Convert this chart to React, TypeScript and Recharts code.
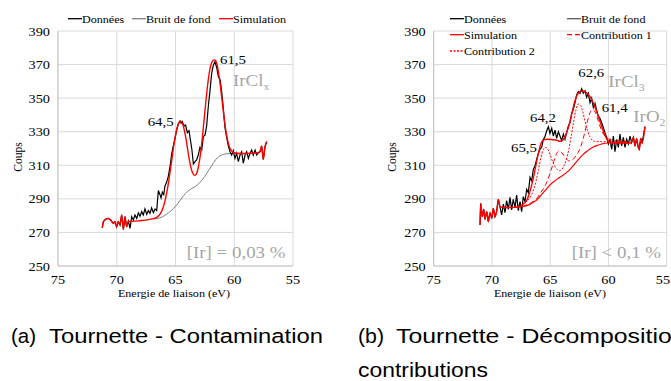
import React from 'react'
import { LineChart, Line, XAxis, YAxis, CartesianGrid } from 'recharts'

const SERIF = '"Liberation Serif", "Times New Roman", serif'
const SANS = '"Liberation Sans", Arial, sans-serif'
const RED = '#ff0000'
const GREY_TXT = '#a6a6a6'

const xTicks = [75, 70, 65, 60, 55]
const yTicks = [250, 270, 290, 310, 330, 350, 370, 390]

// (a) Tournette - Contamination
const dataEnergyA = [
  71.23, 71.14, 70.92, 70.72, 70.52, 70.29, 70.15, 70.01, 69.87, 69.72, 69.58, 69.44, 69.3, 69.16, 69.01,
  68.87, 68.73, 68.59, 68.45, 68.3, 68.16, 68.02, 67.88, 67.74, 67.6, 67.45, 67.31, 67.17, 67.03, 66.88,
  66.74, 66.6, 66.46, 66.32, 66.23, 66.12, 66.0, 65.9, 65.75, 65.61, 65.47, 65.33, 65.19, 65.04, 64.9,
  64.76, 64.62, 64.52, 64.42, 64.28, 64.14, 63.99, 63.85, 63.71, 63.6, 63.48, 63.34, 63.2, 63.06, 62.92,
  62.77, 62.63, 62.49, 62.35, 62.21, 62.06, 61.92, 61.78, 61.64, 61.5, 61.35, 61.21, 61.07, 60.93, 60.79,
  60.65, 60.5, 60.36, 60.22, 60.08, 59.94, 59.8, 59.65, 59.51, 59.37, 59.23, 59.08, 58.94, 58.8, 58.66,
  58.52, 58.38, 58.23, 58.09, 57.95, 57.81, 57.67, 57.53, 57.38, 57.24,
]
const dataCountsA = [
  272.8, 276.4, 278.0, 278.4, 277.4, 275.4, 276.4, 273.4, 276.4, 274.4, 280.4, 271.8, 279.4, 273.4, 276.8,
  272.4, 279.4, 277.4, 280.4, 278.4, 281.6, 279.6, 282.4, 280.4, 284.0, 280.8, 283.0, 281.4, 284.6, 281.8,
  284.0, 283.0, 295.0, 292.5, 290.5, 294.0, 292.5, 297.5, 300.0, 303.5, 309.0, 316.5, 321.5, 326.0, 331.0,
  334.6, 336.4, 335.0, 336.0, 333.4, 334.0, 329.4, 330.6, 324.1, 319.1, 310.8, 312.2, 313.2, 316.1, 320.7,
  319.1, 327.1, 328.0, 333.4, 344.9, 354.8, 364.8, 369.7, 371.7, 368.4, 362.8, 361.2, 353.9, 343.9, 332.6,
  326.6, 321.5, 318.1, 316.1, 318.7, 314.1, 317.1, 312.2, 316.1, 318.1, 311.2, 316.1, 318.1, 314.1, 317.1,
  319.1, 316.1, 319.1, 316.1, 317.5, 318.1, 321.5, 313.5, 321.1, 324.1,
]
const simEnergyA = [
  71.23, 71.14, 70.92, 70.72, 70.52, 70.29, 70.15, 70.01, 69.87, 69.72, 69.58, 69.44, 69.3, 69.16, 69.01,
  68.6, 68.0, 67.4, 66.9, 66.6, 66.3, 66.1, 65.9, 65.75, 65.6, 65.45, 65.3, 65.15, 65.0, 64.85, 64.7,
  64.58, 64.45, 64.3, 64.15, 64.0, 63.85, 63.7, 63.55, 63.4, 63.25, 63.1, 62.95, 62.8, 62.65, 62.5,
  62.35, 62.2, 62.05, 61.9, 61.75, 61.6, 61.45, 61.3, 61.15, 61.0, 60.85, 60.7, 60.55, 60.4, 60.25,
  60.1, 59.9, 59.5, 59.0, 58.5, 58.0, 57.81, 57.67, 57.53, 57.38, 57.24,
]
const simCountsA = [
  272.8, 276.4, 278.0, 278.4, 277.4, 275.4, 276.4, 273.4, 276.4, 274.4, 280.4, 271.8, 279.4, 273.4, 276.6,
  276.6, 277.0, 277.5, 278.2, 279.0, 281.0, 284.0, 288.5, 293.5, 299.5, 306.5, 314.0, 321.5, 328.0, 332.8, 335.5,
  336.2, 335.5, 332.5, 327.5, 321.0, 314.5, 309.0, 305.5, 304.0, 304.5, 307.5, 313.0, 321.0, 331.0, 342.0,
  352.5, 361.5, 368.0, 371.5, 372.8, 372.5, 369.5, 363.5, 355.5, 346.5, 337.5, 330.0, 324.5, 320.8, 318.8,
  317.8, 317.3, 317.0, 317.0, 317.2, 317.5, 318.1, 321.5, 313.5, 321.1, 324.1,
]
const bgEnergyA = [
  66.9, 66.6, 66.2, 65.8, 65.4, 65.0, 64.6, 64.3, 64.0, 63.7, 63.4, 63.1, 62.8, 62.5, 62.2, 61.9, 61.6,
  61.3, 61.0, 60.7, 60.4, 60.1,
]
const bgCountsA = [
  277.9, 278.2, 279.0, 280.6, 282.8, 285.5, 289.2, 292.0, 294.3, 295.8, 297.0, 298.5, 300.8, 303.5, 306.8,
  310.0, 313.2, 315.2, 316.3, 316.8, 317.0, 317.2,
]

// (b) Tournette - Décomposition en contributions
const dataEnergyB = [
  71.02, 70.97, 70.83, 70.71, 70.6, 70.45, 70.31, 70.17, 70.02, 69.88, 69.74, 69.6, 69.45, 69.31,
  69.17, 69.02, 68.88, 68.74, 68.59, 68.45, 68.31, 68.17, 68.02, 67.88, 67.74, 67.59, 67.45, 67.31, 67.16,
  67.02, 66.88, 66.73, 66.59, 66.45, 66.31, 66.16, 66.02, 65.88, 65.73, 65.59, 65.47, 65.3, 65.16, 65.02,
  64.87, 64.73, 64.59, 64.44, 64.3, 64.16, 64.02, 63.87, 63.73, 63.59, 63.44, 63.3, 63.16, 63.01, 62.87,
  62.73, 62.58, 62.44, 62.3, 62.16, 62.01, 61.87, 61.73, 61.58, 61.44, 61.3, 61.15, 61.01, 60.87, 60.72,
  60.58, 60.44, 60.3, 60.15, 60.01, 59.87, 59.72, 59.58, 59.44, 59.29, 59.15, 59.01, 58.87, 58.72, 58.58,
  58.44, 58.29, 58.15, 58.01, 57.86, 57.72, 57.58, 57.44, 57.35, 57.23, 57.12, 56.86,
]
const dataCountsB = [
  274.4, 287.3, 279.4, 283.8, 277.8, 282.4, 276.4, 281.8, 278.4, 284.3, 279.4, 282.4, 289.7, 285.3,
  280.4, 286.9, 281.8, 288.9, 283.8, 290.9, 283.4, 289.7, 284.9, 292.3, 283.0, 288.3, 282.4, 291.3, 288.3,
  295.7, 293.7, 302.8, 300.8, 307.6, 309.6, 313.5, 317.1, 319.5, 320.7, 325.5, 326.6, 330.6, 333.0, 329.0,
  332.0, 327.4, 331.0, 326.1, 330.0, 327.4, 324.7, 328.6, 325.5, 329.4, 333.4, 335.4, 340.9, 343.3, 347.3,
  351.9, 353.9, 352.9, 355.6, 352.9, 354.4, 350.5, 352.9, 347.3, 349.9, 344.5, 346.9, 342.5, 339.4, 337.8,
  335.4, 332.6, 329.4, 326.6, 322.7, 325.1, 319.5, 327.4, 318.1, 325.5, 320.7, 328.6, 321.5, 326.6, 320.7,
  325.5, 322.7, 327.4, 323.5, 326.6, 321.5, 325.8, 320.7, 319.5, 326.1, 323.1, 333.0,
]
const simEnergyB = [
  71.02, 70.97, 70.83, 70.71, 70.6, 70.45, 70.31, 70.17, 70.02, 69.88, 69.74, 69.6, 69.45, 69.31,
  69.1, 68.6, 68.0, 67.6, 67.3, 67.0, 66.8, 66.6, 66.4, 66.2, 66.0, 65.85, 65.7, 65.5, 65.2, 64.9, 64.6,
  64.4, 64.2, 64.0, 63.85, 63.7, 63.55, 63.4, 63.25, 63.1, 62.95, 62.8, 62.6, 62.4, 62.2, 62.0, 61.8,
  61.6, 61.4, 61.2, 61.0, 60.8, 60.6, 60.4, 60.2, 60.0, 59.8, 59.4, 58.8, 58.1,
  57.86, 57.72, 57.58, 57.44, 57.35, 57.23, 57.12, 56.86,
]
const simCountsB = [
  274.4, 287.3, 279.4, 283.8, 277.8, 282.4, 276.4, 281.8, 278.4, 284.3, 279.4, 282.4, 289.7, 285.3,
  285.0, 284.8, 285.0, 285.6, 286.9, 289.3, 293.0, 298.0, 304.0, 311.0, 317.5, 321.8, 324.3, 325.3, 325.5,
  325.4, 325.1, 324.8, 324.3, 324.6, 325.6, 327.5, 330.2, 333.5, 337.5, 342.0, 346.5, 350.0, 352.8, 354.0,
  354.3, 353.8, 352.6, 351.0, 348.6, 345.4, 341.8, 337.6, 333.5, 329.6, 326.5, 324.4, 323.6, 323.3, 323.2,
  323.3, 326.6, 321.5, 325.8, 320.7, 319.5, 326.1, 323.1, 333.0,
]
const bgEnergyB = [
  67.45, 67.31, 67.0, 66.73, 66.45, 66.16, 65.88, 65.59, 65.3, 65.02, 64.73, 64.44, 64.15, 63.87, 63.58,
  63.3, 63.0, 62.73, 62.45, 62.16, 61.87, 61.58, 61.3, 61.01, 60.72, 60.44, 60.0, 59.58, 59.0, 58.44,
]
const bgCountsB = [
  285.3, 285.4, 286.0, 286.7, 288.0, 289.3, 291.4, 293.7, 296.0, 298.3, 300.0, 301.6, 303.0, 304.2, 305.8,
  307.6, 309.9, 312.2, 314.4, 316.5, 318.2, 319.7, 320.9, 321.7, 322.4, 322.9, 323.3, 323.5, 323.6, 323.7,
]
// Contribution 1 : 64,2 / 61,4
const c1Energy = [
  67.4, 67.0, 66.6, 66.2, 65.8, 65.4, 65.2, 65.0, 64.8, 64.6, 64.4, 64.2, 64.0, 63.8, 63.6, 63.4, 63.2,
  63.0, 62.8, 62.6, 62.4, 62.2, 62.0, 61.8, 61.6, 61.4, 61.2, 61.0, 60.8, 60.6, 60.4, 60.2, 60.0, 59.6,
  59.0, 58.4,
]
const c1Counts = [
  285.5, 286.5, 287.9, 289.9, 293.8, 298.4, 301.5, 305.6, 309.8, 314.2, 317.6, 318.5, 317.5, 315.5, 313.7,
  312.6, 312.8, 313.8, 315.6, 317.6, 320.7, 325.1, 330.5, 336.3, 341.1, 343.3, 342.4, 339.2, 334.8, 331.0,
  328.3, 326.7, 325.7, 324.9, 324.4, 324.2,
]
// Contribution 2 : 65,5 / 62,6
const c2Energy = [
  67.4, 67.0, 66.6, 66.4, 66.2, 66.0, 65.8, 65.6, 65.4, 65.2, 65.0, 64.8, 64.6, 64.4, 64.2, 64.0, 63.8,
  63.6, 63.4, 63.2, 63.0, 62.8, 62.6, 62.4, 62.2, 62.0, 61.8, 61.6, 61.4, 61.2, 61.0, 60.6, 60.0, 59.4,
  58.6,
]
const c2Counts = [
  286.8, 288.7, 292.5, 296.0, 301.0, 307.6, 314.4, 319.3, 320.6, 319.5, 316.1, 312.3, 309.4, 307.5, 306.8,
  307.5, 309.8, 313.8, 319.5, 327.2, 335.6, 342.8, 346.5, 345.8, 341.7, 336.0, 330.7, 327.0, 325.0, 324.3,
  324.1, 324.1, 324.0, 323.9, 323.8,
]

const pts = (es: number[], vs: number[]) => es.map((e, i) => ({ e, v: vs[i] }))

const YTick = (props: any) => {
  const { x, y, payload } = props
  return (
    <text
      transform={`translate(${x - 8},${y}) scale(1.1,1)`}
      textAnchor="end"
      dy="0.35em"
      fontSize={13}
      fontFamily={SERIF}
      fill="#000"
    >
      {payload.value}
    </text>
  )
}

const XTick = (props: any) => {
  const { x, y, payload } = props
  return (
    <text
      transform={`translate(${x},${y + 18}) scale(1.1,1)`}
      textAnchor="middle"
      fontSize={13}
      fontFamily={SERIF}
      fill="#000"
    >
      {payload.value}
    </text>
  )
}

function Txt({ x, y, size, sx = 1.1, fill = '#000', anchor = 'start', children }: any) {
  return (
    <text
      transform={`translate(${x},${y}) scale(${sx},1)`}
      fontSize={size}
      fontFamily={SERIF}
      fill={fill}
      textAnchor={anchor}
    >
      {children}
    </text>
  )
}

function Axes({ yWidth }: { yWidth: number }) {
  return [
    <CartesianGrid key="g" stroke="#d9d9d9" strokeWidth={1} />,
    <XAxis
      key="x"
      type="number"
      dataKey="e"
      domain={[55, 75]}
      reversed
      ticks={xTicks}
      tickLine={false}
      tickSize={0}
      tickMargin={0}
      height={30}
      axisLine={{ stroke: '#c4c4c4' }}
      tick={<XTick />}
      allowDataOverflow
    />,
    <YAxis
      key="y"
      type="number"
      domain={[250, 390]}
      ticks={yTicks}
      tickLine={false}
      tickSize={0}
      tickMargin={0}
      width={yWidth}
      axisLine={{ stroke: '#c4c4c4' }}
      tick={<YTick />}
      allowDataOverflow
    />,
  ]
}

function LegendItem({ x, y, color, dash, label }: any) {
  return (
    <g>
      <line x1={x} y1={y - 4} x2={x + 14} y2={y - 4} stroke={color} strokeWidth={1.3} strokeDasharray={dash} />
      <Txt x={x + 14} y={y} size={11}>
        {label}
      </Txt>
    </g>
  )
}

export default function App() {
  return (
    <div
      style={{
        position: 'absolute',
        left: 0,
        top: 0,
        width: 671,
        height: 381,
        overflow: 'hidden',
        background: '#fff',
      }}
    >
      {/* (a) */}
      <div style={{ position: 'absolute', left: 0, top: 0 }}>
        <LineChart width={335} height={300} margin={{ top: 31, right: 42, bottom: 4, left: 0 }}>
          {Axes({ yWidth: 58 })}
          <Line data={pts(bgEnergyA, bgCountsA)} dataKey="v" stroke="#808080" strokeWidth={1} dot={false} isAnimationActive={false} type="monotone" />
          <Line data={pts(dataEnergyA, dataCountsA)} dataKey="v" stroke="#000" strokeWidth={1.2} dot={false} isAnimationActive={false} type="linear" />
          <Line data={pts(simEnergyA, simCountsA)} dataKey="v" stroke={RED} strokeWidth={1.4} dot={false} isAnimationActive={false} type="monotone" />
        </LineChart>
      </div>

      {/* (b) */}
      <div style={{ position: 'absolute', left: 375, top: 0 }}>
        <LineChart width={296} height={300} margin={{ top: 31, right: 4.3, bottom: 4, left: 0 }}>
          {Axes({ yWidth: 58.7 })}
          <Line data={pts(dataEnergyB, dataCountsB)} dataKey="v" stroke="#000" strokeWidth={1.2} dot={false} isAnimationActive={false} type="linear" />
          <Line data={pts(bgEnergyB, bgCountsB)} dataKey="v" stroke={RED} strokeWidth={1.2} dot={false} isAnimationActive={false} type="monotone" />
          <Line data={pts(c1Energy, c1Counts)} dataKey="v" stroke={RED} strokeWidth={1} strokeDasharray="5 3" dot={false} isAnimationActive={false} type="monotone" />
          <Line data={pts(c2Energy, c2Counts)} dataKey="v" stroke={RED} strokeWidth={1} strokeDasharray="2 1.5" dot={false} isAnimationActive={false} type="monotone" />
          <Line data={pts(simEnergyB, simCountsB)} dataKey="v" stroke={RED} strokeWidth={1.4} dot={false} isAnimationActive={false} type="monotone" />
        </LineChart>
      </div>

      {/* texts */}
      <svg width={671} height={381} style={{ position: 'absolute', left: 0, top: 0, pointerEvents: 'none' }}>
        {/* legend (a) */}
        <LegendItem x={68} y={22.7} color="#000" label="Données" />
        <LegendItem x={132} y={22.7} color="#808080" label="Bruit de fond" />
        <LegendItem x={219} y={22.7} color={RED} label="Simulation" />
        {/* legend (b) */}
        <LegendItem x={450} y={22.7} color="#000" label="Données" />
        <LegendItem x={567} y={22.7} color="#595959" label="Bruit de fond" />
        <LegendItem x={450} y={38.7} color={RED} label="Simulation" />
        <LegendItem x={567} y={38.7} color={RED} dash="5 3" label="Contribution 1" />
        <LegendItem x={450} y={55} color={RED} dash="2 1.5" label="Contribution 2" />

        {/* axis titles */}
        <Txt x={174} y={296.5} size={11} anchor="middle">Energie de liaison (eV)</Txt>
        <Txt x={550} y={296.5} size={11} anchor="middle">Energie de liaison (eV)</Txt>
        <text transform="translate(21.5,157) rotate(-90)" fontSize={11.5} fontFamily={SERIF} textAnchor="middle">Coups</text>
        <text transform="translate(396,157) rotate(-90)" fontSize={11.5} fontFamily={SERIF} textAnchor="middle">Coups</text>

        {/* annotations (a) */}
        <Txt x={220} y={63.5} size={13.5}>61,5</Txt>
        <Txt x={147.7} y={126} size={13.5}>64,5</Txt>
        <Txt x={233} y={86} size={17.5} sx={1.08} fill={GREY_TXT}>
          IrCl<tspan fontSize={11} dy={4}>x</tspan>
        </Txt>
        <Txt x={186.7} y={258} size={17.5} sx={1.08} fill={GREY_TXT}>[Ir] = 0,03 %</Txt>

        {/* annotations (b) */}
        <Txt x={578.3} y={76.7} size={13.5}>62,6</Txt>
        <Txt x={601.7} y={111.7} size={13.5}>61,4</Txt>
        <Txt x={530} y={121.7} size={13.5}>64,2</Txt>
        <Txt x={511} y={151.7} size={13.5}>65,5</Txt>
        <Txt x={608.3} y={86.7} size={17.5} sx={1.08} fill={GREY_TXT}>
          IrCl<tspan fontSize={11} dy={4}>3</tspan>
        </Txt>
        <Txt x={633.3} y={122} size={17.5} sx={1.08} fill={GREY_TXT}>
          IrO<tspan fontSize={11} dy={4}>2</tspan>
        </Txt>
        <Txt x={571.7} y={258} size={17.5} sx={1.08} fill={GREY_TXT}>[Ir] &lt; 0,1 %</Txt>

        {/* captions */}
        <text x={11} y={343} fontSize={20.5} fontFamily={SANS} textLength={25} lengthAdjust="spacingAndGlyphs">(a)</text>
        <text x={49} y={343} fontSize={20.5} fontFamily={SANS} textLength={274} lengthAdjust="spacingAndGlyphs">Tournette - Contamination</text>
        <text x={358} y={343} fontSize={20.5} fontFamily={SANS} textLength={26} lengthAdjust="spacingAndGlyphs">(b)</text>
        <text x={396} y={343} fontSize={20.5} fontFamily={SANS} textLength={324} lengthAdjust="spacingAndGlyphs">Tournette - Décomposition en</text>
        <text x={358} y={377} fontSize={20.5} fontFamily={SANS} textLength={130} lengthAdjust="spacingAndGlyphs">contributions</text>
      </svg>
    </div>
  )
}
